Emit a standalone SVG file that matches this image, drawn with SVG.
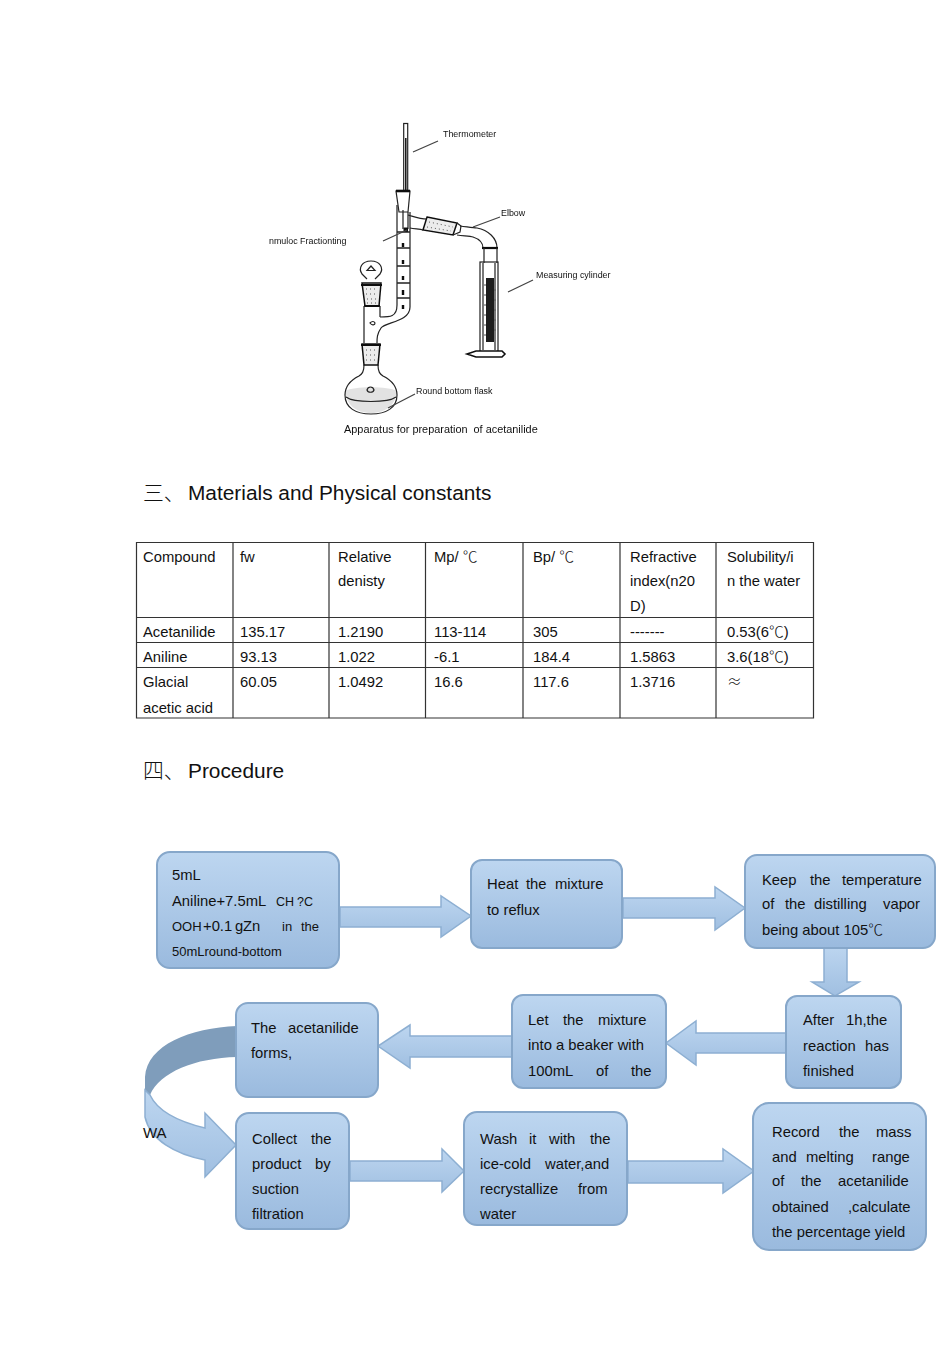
<svg xmlns="http://www.w3.org/2000/svg" width="950" height="1345" viewBox="0 0 950 1345">
<style>
text{font-family:"Liberation Sans",Arial,sans-serif;fill:#111;font-size:14.8px}
.cjk{font-family:"Noto Sans CJK SC","Liberation Sans",sans-serif;font-weight:300}
.lab{font-size:8.9px}
.h{font-size:20.85px}
.small{font-size:13px}
.box{fill:url(#boxg);stroke:#86a7ca;stroke-width:2}
.arr{fill:url(#arrg);stroke:#8dafd2;stroke-width:1.5;stroke-linejoin:miter}
.gl{fill:none;stroke:#222;stroke-width:1.2}
.glw{fill:#fff;stroke:#222;stroke-width:1.2}
.lead{stroke:#444;stroke-width:1.3;fill:none}
.cork{fill:#ececec;stroke:#111;stroke-width:1.5}
.speck{fill:none;stroke:#555;stroke-width:1;stroke-dasharray:1 3}
.tl{stroke:#222;stroke-width:1.4;fill:none}
</style>
<defs>
<linearGradient id="boxg" x1="0" y1="0" x2="0" y2="1"><stop offset="0" stop-color="#bdd6f0"/><stop offset="1" stop-color="#9abade"/></linearGradient>
<linearGradient id="arrg" x1="0" y1="0" x2="0" y2="1"><stop offset="0" stop-color="#bdd6f0"/><stop offset="1" stop-color="#a0bfe1"/></linearGradient>
<filter id="soft" x="-5%" y="-5%" width="110%" height="110%"><feGaussianBlur stdDeviation="0.35"/></filter>
</defs>
<rect width="950" height="1345" fill="#fff"/>

<g id="apparatus" filter="url(#soft)">
<rect x="403.7" y="123.5" width="4" height="67" class="glw" fill="#ddd"/>
<line x1="405.8" y1="138" x2="405.8" y2="190" stroke="#111" stroke-width="1.5"/>
<path class="glw" d="M396 191L410 191L408 212L399 212Z"/>
<path d="M396 191H410" stroke="#111" stroke-width="2.6" fill="none"/>
<path class="gl" d="M397 205V305C397 317 390 317 380 317"/>
<path class="gl" d="M410 212V307C410 322 385 322 381 328C377 334 377 338 377 343"/>
<path class="gl" d="M403 210V229M408 212V229"/>
<rect x="403.500" y="227.500" width="4.500" height="4.500" fill="#111"/>
<path class="tl" d="M397 232H410M397 248H410M397 266H410M397 283H410M397 298H410"/>
<path d="M403 243V247M403 260V264M403 276V280M403 290V295M403 305V309" stroke="#111" stroke-width="2.4"/>
<path class="gl" d="M408 215C415 217 420 219 427 219M410 228C415 229 420 229 423 230"/>
<path class="cork" d="M427 217L457 223L453 235L423 230Z"/>
<path class="speck" d="M429 222L453 227M427 227L451 231"/>
<path class="gl" d="M457 223L461 226L460 232L453 235"/>
<path class="gl" d="M460 226C468 227 473 228 477 228C488 230 497 238 497 248M457 235C465 236 470 236 473 237C479 239 483 243 483 248"/>
<path class="gl" stroke-width="1.4" d="M367 279L362 274C358 268 362 261 371 261C380 261 384 268 380 274L375 279"/>
<path d="M371 266L375 270.500H367Z" class="gl"/>
<path class="cork" d="M362 283H381L379 306H365Z"/>
<path class="speck" d="M366 289H378M366 294H378M367 299H377M367 303H377"/>
<path d="M361 285H382M364 306H380" stroke="#111" stroke-width="1.8" fill="none"/>
<path class="gl" d="M364 306V343M380 306V317"/>
<path d="M370 323C372 321 374 321 375 323C375 325 372 326 370 323Z" class="gl" stroke-width="1.5"/>
<path class="cork" d="M362 344H380L378 365H364Z"/>
<path class="speck" d="M366 350H376M366 355H376M366 360H376"/>
<path d="M361 345H381" stroke="#111" stroke-width="2" fill="none"/>
<path d="M346 391C352 386 390 386 396 391C397 404 386 413 371 413C356 413 345 404 346 391Z" fill="#e2e2e2" stroke="none"/>
<path class="gl" d="M364 365C364 372 362 374 359 376C351 380 345 386 345 395C345 408 356 414 371 414C386 414 397 408 397 395C397 386 391 380 383 376C380 374 378 372 378 365" stroke-width="1.4"/>
<path class="gl" d="M346 397C354 403 388 403 396 397"/>
<path d="M367 390C368 386 373 386 374 390C373 393 368 393 367 390Z" class="gl" stroke-width="1.6"/>
<path d="M482 248H498" stroke="#111" stroke-width="2.2" fill="none"/>
<path class="gl" d="M484 248V263M497 248V263"/>
<rect x="480" y="262" width="18" height="92" class="gl"/>
<path class="gl" d="M483 263V350M495 263V350"/>
<rect x="486" y="278" width="8" height="64" fill="#1a1a1a"/>
<path d="M484 285H486M484 295H486M484 305H486M484 315H486M484 325H486M484 335H486M494 290H496M494 300H496M494 310H496M494 320H496M494 330H496" stroke="#555" stroke-width="1"/>
<path d="M467 354L476 351H502L505 354L502 357H476Z" fill="#fff" stroke="#111" stroke-width="1.6"/>
<path class="lead" d="M413 152L438 141M473 227L500 217M383 241L407 230M508 292L533 280M388 408L415 394"/>
<text class="lab" x="443" y="137">Thermometer</text>
<text class="lab" x="501" y="216">Elbow</text>
<text class="lab" x="269" y="244">nmuloc Fractionting</text>
<text class="lab" x="536" y="278">Measuring cylinder</text>
<text class="lab" x="416" y="394">Round bottom flask</text>
<text x="344" y="433" style="font-size:10.9px" xml:space="preserve">Apparatus for preparation  of acetanilide</text>
</g>

<g id="heading-materials"><text class="cjk h" x="143" y="500">三、</text><text class="h" x="188" y="500">Materials and Physical constants</text></g>

<g id="table">
<path fill="none" stroke="#333" stroke-width="1.2" d="M136.500 542.500H813.500V718H136.500ZM233 542V718M329 542V718M425.500 542V718M523 542V718M620 542V718M716 542V718M136 617.500H814M136 642.500H814M136 667.500H814"/>
<text x="143" y="562">Compound</text><text x="240" y="562">fw</text><text x="338" y="562">Relative</text><text x="338" y="586">denisty</text>
<text x="434" y="562">Mp/ <tspan class="cjk">℃</tspan></text><text x="533" y="562">Bp/ <tspan class="cjk">℃</tspan></text>
<text x="630" y="562">Refractive</text><text x="630" y="586">index(n20</text><text x="630" y="611">D)</text>
<text x="727" y="562">Solubility/i</text><text x="727" y="586">n the water</text>
<text x="143" y="637">Acetanilide</text><text x="240" y="637">135.17</text><text x="338" y="637">1.2190</text><text x="434" y="637">113-114</text><text x="533" y="637">305</text><text x="630" y="637">-------</text><text x="727" y="637">0.53(6<tspan class="cjk">℃</tspan>)</text>
<text x="143" y="662">Aniline</text><text x="240" y="662">93.13</text><text x="338" y="662">1.022</text><text x="434" y="662">-6.1</text><text x="533" y="662">184.4</text><text x="630" y="662">1.5863</text><text x="727" y="662">3.6(18<tspan class="cjk">℃</tspan>)</text>
<text x="143" y="687">Glacial</text><text x="240" y="687">60.05</text><text x="338" y="687">1.0492</text><text x="434" y="687">16.6</text><text x="533" y="687">117.6</text><text x="630" y="687">1.3716</text><text class="cjk" x="727" y="687">≈</text>
<text x="143" y="713">acetic acid</text>
</g>

<g id="heading-procedure"><text class="cjk h" x="143" y="778">四、</text><text class="h" x="188" y="778">Procedure</text></g>

<g id="connectors">
<path class="arr" d="M340 907H441V896L471 916L441 937V927H340Z"/>
<path class="arr" d="M623 898H715V887L745 908L715 930V918H623Z"/>
<path class="arr" d="M824 945H847V982H859L835 996L812 982H824Z"/>
<path class="arr" d="M786 1033H696V1021L666 1043L696 1065V1053H786Z"/>
<path class="arr" d="M512 1036H410V1025L378 1046L410 1068V1057H512Z"/>
<path class="arr" d="M350 1161H442V1149L464 1171L442 1192V1181H350Z"/>
<path class="arr" d="M628 1161H723V1149L754 1171L723 1193V1183H628Z"/>
<path id="curve-back" d="M237 1026C190 1028 147 1045 145 1077V1090L150 1095C160 1072 195 1058 237 1057Z" fill="#7f9dbb"/>
<path id="curve-front" class="arr" d="M145 1090V1117C150 1140 175 1154 205 1160V1177L236 1145L205 1113V1128C180 1122 158 1112 150 1095Z"/>
</g>

<g id="node-1"><rect class="box" x="157" y="852" width="182" height="116" rx="13"/>
<text x="172" y="880">5mL</text><text x="172" y="906">Aniline+7.5mL</text><text x="276" y="906" style="font-size:12.5px">CH</text><text x="297" y="906" style="font-size:12.5px">?C</text>
<text class="small" x="172" y="931">OOH</text><text x="203" y="931">+0.1</text><text x="235" y="931">g</text><text x="243" y="931">Zn</text><text class="small" x="282" y="931">in</text><text class="small" x="301" y="931">the</text>
<text class="small" x="172" y="956">50mLround-bottom</text></g>

<g id="node-2"><rect class="box" x="471" y="860" width="151" height="88" rx="11"/>
<text x="487" y="889">Heat</text><text x="526" y="889">the</text><text x="555" y="889">mixture</text><text x="487" y="915">to reflux</text></g>

<g id="node-3"><rect class="box" x="745" y="855" width="190" height="93" rx="12"/>
<text x="762" y="885">Keep</text><text x="810" y="885">the</text><text x="842" y="885">temperature</text>
<text x="762" y="909">of</text><text x="785" y="909">the</text><text x="814" y="909">distilling</text><text x="883" y="909">vapor</text>
<text x="762" y="935">being about 105<tspan class="cjk">℃</tspan></text></g>

<g id="node-4"><rect class="box" x="786" y="996" width="115" height="92" rx="11"/>
<text x="803" y="1025">After</text><text x="846" y="1025">1h,the</text><text x="803" y="1051">reaction</text><text x="865" y="1051">has</text><text x="803" y="1076">finished</text></g>

<g id="node-5"><rect class="box" x="512" y="995" width="154" height="93" rx="11"/>
<text x="528" y="1025">Let</text><text x="563" y="1025">the</text><text x="598" y="1025">mixture</text><text x="528" y="1050">into a beaker with</text>
<text x="528" y="1076">100mL</text><text x="596" y="1076">of</text><text x="631" y="1076">the</text></g>

<g id="node-6"><rect class="box" x="236" y="1003" width="142" height="94" rx="12"/>
<text x="251" y="1033">The</text><text x="288" y="1033">acetanilide</text><text x="251" y="1058">forms,</text></g>

<g id="node-7"><rect class="box" x="236" y="1113" width="113" height="116" rx="13"/>
<text x="252" y="1144">Collect</text><text x="311" y="1144">the</text><text x="252" y="1169">product</text><text x="315" y="1169">by</text><text x="252" y="1194">suction</text><text x="252" y="1219">filtration</text></g>

<g id="node-8"><rect class="box" x="464" y="1112" width="163" height="113" rx="13"/>
<text x="480" y="1144">Wash</text><text x="529" y="1144">it</text><text x="549" y="1144">with</text><text x="590" y="1144">the</text>
<text x="480" y="1169">ice-cold</text><text x="545" y="1169">water,and</text><text x="480" y="1194">recrystallize</text><text x="578" y="1194">from</text><text x="480" y="1219">water</text></g>

<g id="node-9"><rect class="box" x="753" y="1103" width="173" height="147" rx="16"/>
<text x="772" y="1137">Record</text><text x="839" y="1137">the</text><text x="876" y="1137">mass</text>
<text x="772" y="1162">and</text><text x="806" y="1162">melting</text><text x="872" y="1162">range</text>
<text x="772" y="1186">of</text><text x="801" y="1186">the</text><text x="838" y="1186">acetanilide</text>
<text x="772" y="1212">obtained</text><text x="848" y="1212">,calculate</text><text x="772" y="1237">the percentage yield</text></g>

<text id="label-wa" x="143" y="1138" style="font-size:15px">WA</text>
</svg>
